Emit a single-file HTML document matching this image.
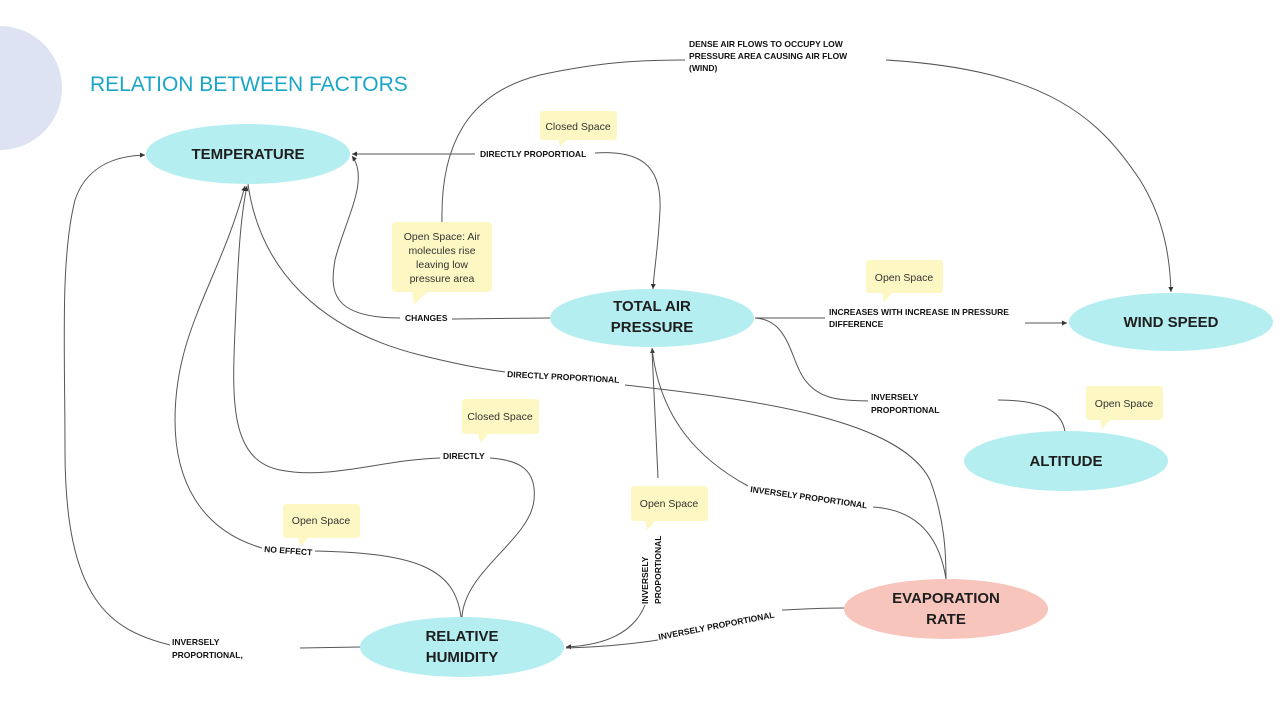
<!DOCTYPE html>
<html><head><meta charset="utf-8"><style>
body{margin:0;background:#fff}
svg{display:block}
.n{font-family:"Liberation Sans",sans-serif;font-weight:bold;font-size:15px;fill:#1e1e1e;text-anchor:middle}
.l{font-family:"Liberation Sans",sans-serif;font-weight:bold;font-size:8.5px;fill:#111}
.s{font-family:"Liberation Sans",sans-serif;font-size:10.5px;fill:#333;text-anchor:middle}
path.c{fill:none;stroke:#555;stroke-width:1}
.st{fill:#fdf7c3}
</style></head><body>
<svg width="1280" height="720" viewBox="0 0 1280 720">
<defs><marker id="a" markerWidth="6" markerHeight="6" refX="5" refY="3" orient="auto"><path d="M0,0.5 L5,3 L0,5.5z" fill="#333"/></marker></defs>
<circle cx="0" cy="88" r="62" fill="#dde3f3"/>
<text x="90" y="91" font-family="Liberation Sans,sans-serif" font-size="21" fill="#1ba6c8">RELATION BETWEEN FACTORS</text>

<!-- connectors -->
<path class="c" d="M475,154 L352,154" marker-end="url(#a)"/>
<path class="c" d="M595,153 C640,150 662,165 660,210 C658,250 654,270 653,289" marker-end="url(#a)"/>
<path class="c" d="M550,318 L452,319"/>
<path class="c" d="M400,318 C330,318 330,290 335,260 C345,220 370,180 352,156" marker-end="url(#a)"/>
<path class="c" d="M442,222 C440,130 480,90 540,75 C600,62 640,60 685,60"/>
<path class="c" d="M886,60 C1050,70 1100,120 1140,180 C1165,220 1170,260 1171,292" marker-end="url(#a)"/>
<path class="c" d="M248,184 C260,270 320,330 420,355 C460,365 490,370 505,372"/>
<path class="c" d="M625,385 C760,400 900,420 930,480 C945,520 946,555 946,579"/>
<path class="c" d="M755,318 L825,318"/>
<path class="c" d="M1025,323 L1067,323" marker-end="url(#a)"/>
<path class="c" d="M755,318 C790,320 790,360 805,380 C820,400 840,400 868,401"/>
<path class="c" d="M998,400 C1040,400 1062,410 1065,432"/>
<path class="c" d="M946,579 C940,540 920,510 873,507"/>
<path class="c" d="M748,486 C700,460 660,420 652,348" marker-end="url(#a)"/>
<path class="c" d="M658,478 L652,350"/>
<path class="c" d="M645,605 C635,630 610,645 566,647" marker-end="url(#a)"/>
<path class="c" d="M844,608 C810,608 790,610 782,610"/>
<path class="c" d="M658,640 C620,646 590,647 566,648"/>
<path class="c" d="M462,617 C465,570 530,540 534,500 C537,470 520,460 490,458"/>
<path class="c" d="M440,458 C380,460 330,480 280,470 C230,460 232,400 235,330 C238,260 240,220 247,186" marker-end="url(#a)"/>
<path class="c" d="M461,617 C455,570 420,553 315,551"/>
<path class="c" d="M262,548 C200,530 175,480 175,420 C175,330 220,280 245,186" marker-end="url(#a)"/>
<path class="c" d="M360,647 L300,648"/>
<path class="c" d="M170,645 C110,630 65,600 65,450 C65,350 60,260 75,200 C85,170 110,156 145,155" marker-end="url(#a)"/>

<!-- connector labels -->
<text class="l" x="480" y="157">DIRECTLY PROPORTIOAL</text>
<text class="l" x="405" y="321">CHANGES</text>
<text class="l" x="689" y="47">DENSE AIR FLOWS TO OCCUPY LOW</text>
<text class="l" x="689" y="59">PRESSURE AREA  CAUSING AIR FLOW</text>
<text class="l" x="689" y="71">(WIND)</text>
<text class="l" x="507" y="377" transform="rotate(3 507 377)">DIRECTLY PROPORTIONAL</text>
<text class="l" x="829" y="315">INCREASES WITH INCREASE IN PRESSURE</text>
<text class="l" x="829" y="327">DIFFERENCE</text>
<text class="l" x="871" y="400">INVERSELY</text>
<text class="l" x="871" y="413">PROPORTIONAL</text>
<text class="l" x="750" y="492" transform="rotate(8 750 492)">INVERSELY PROPORTIONAL</text>
<text class="l" transform="translate(648,604) rotate(-90)">INVERSELY</text>
<text class="l" transform="translate(661,604) rotate(-90)">PROPORTIONAL</text>
<text class="l" x="659" y="640" transform="rotate(-11 659 640)">INVERSELY PROPORTIONAL</text>
<text class="l" x="443" y="459">DIRECTLY</text>
<text class="l" x="264" y="552" transform="rotate(4 264 552)">NO EFFECT</text>
<text class="l" x="172" y="645">INVERSELY</text>
<text class="l" x="172" y="658">PROPORTIONAL,</text>

<!-- sticky notes -->
<g class="st">
<rect x="540" y="111" width="77" height="29" rx="3"/><path d="M558,139 L560,147 L568,139z"/>
<rect x="392" y="222" width="100" height="70" rx="4"/><path d="M412,291 L414,305 L428,291z"/>
<rect x="866" y="260" width="77" height="33" rx="3"/><path d="M882,292 L884,302 L893,292z"/>
<rect x="1086" y="386" width="77" height="34" rx="3"/><path d="M1100,419 L1102,429 L1111,419z"/>
<rect x="462" y="399" width="77" height="35" rx="3"/><path d="M478,433 L480,443 L489,433z"/>
<rect x="283" y="504" width="77" height="34" rx="3"/><path d="M298,537 L300,547 L309,537z"/>
<rect x="631" y="486" width="77" height="35" rx="3"/><path d="M645,520 L647,530 L656,520z"/>
</g>
<text class="s" x="578" y="130">Closed Space</text>
<text class="s" x="442" y="240">Open Space: Air</text>
<text class="s" x="442" y="254">molecules rise</text>
<text class="s" x="442" y="268">leaving low</text>
<text class="s" x="442" y="282">pressure area</text>
<text class="s" x="904" y="281">Open Space</text>
<text class="s" x="1124" y="407">Open Space</text>
<text class="s" x="500" y="420">Closed Space</text>
<text class="s" x="321" y="524">Open Space</text>
<text class="s" x="669" y="507">Open Space</text>

<!-- nodes -->
<ellipse cx="248" cy="154" rx="102" ry="30" fill="#b4eef1"/>
<text class="n" x="248" y="159">TEMPERATURE</text>
<ellipse cx="652" cy="318" rx="102" ry="29" fill="#b4eef1"/>
<text class="n" x="652" y="311">TOTAL AIR</text><text class="n" x="652" y="332">PRESSURE</text>
<ellipse cx="1171" cy="322" rx="102" ry="29" fill="#b4eef1"/>
<text class="n" x="1171" y="327">WIND SPEED</text>
<ellipse cx="1066" cy="461" rx="102" ry="30" fill="#b4eef1"/>
<text class="n" x="1066" y="466">ALTITUDE</text>
<ellipse cx="462" cy="647" rx="102" ry="30" fill="#b4eef1"/>
<text class="n" x="462" y="641">RELATIVE</text><text class="n" x="462" y="662">HUMIDITY</text>
<ellipse cx="946" cy="609" rx="102" ry="30" fill="#f8c5bc"/>
<text class="n" x="946" y="603">EVAPORATION</text><text class="n" x="946" y="624">RATE</text>
</svg>
</body></html>
